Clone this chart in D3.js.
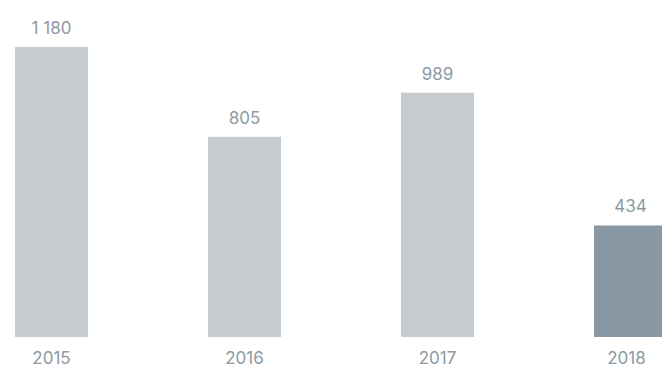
<!DOCTYPE html>
<html>
<head>
<meta charset="utf-8">
<script src="https://cdn.jsdelivr.net/npm/d3@7"></script>
<style>
  html, body { margin: 0; padding: 0; background: #fff; overflow: hidden; }
</style>
</head>
<body>
<div id="chart"></div>
<script>
// Data
var years = ["2015", "2016", "2017", "2018"];
var values = [1180, 805, 989, 434];
var labels = ["1 180", "805", "989", "434"];
var highlight = "2018";

var width = 662, height = 371;

var svg = d3.select("#chart")
  .append("svg")
    .attr("width", width)
    .attr("height", height);

// Scales
var x = d3.scaleBand()
  .domain(years)
  .range([15, 667])
  .paddingInner(0.622)
  .paddingOuter(0);

var y = d3.scaleLinear()
  .domain([-32, 1180])
  .range([337, 47]);

var data = years.map(function(d, i) {
  return {year: d, value: values[i], label: labels[i]};
});

// Bars
svg.selectAll("rect.bar")
  .data(data)
  .enter().append("rect")
    .attr("class", "bar")
    .attr("x", d => x(d.year))
    .attr("width", x.bandwidth())
    .attr("y", d => y(d.value))
    .attr("height", d => y(-32) - y(d.value))
    .attr("fill", d => d.year === highlight ? "#8898a4" : "#c6cbcf");

// Value labels
svg.selectAll("text.value")
  .data(data)
  .enter().append("text")
    .attr("class", "value")
    .attr("x", d => x(d.year) + x.bandwidth() / 2)
    .attr("y", d => y(d.value) - 13)
    .attr("text-anchor", "middle")
    .style("font-family", "Inter, sans-serif")
    .style("font-size", "17px")
    .style("fill", "#8d99a4")
    .text(d => d.label);

// Year axis labels
svg.selectAll("text.year")
  .data(data)
  .enter().append("text")
    .attr("class", "year")
    .attr("x", d => x(d.year) + x.bandwidth() / 2 - (d.year === highlight ? 4 : 0))
    .attr("y", 364)
    .attr("text-anchor", "middle")
    .style("font-family", "Inter, sans-serif")
    .style("font-size", "17px")
    .style("fill", "#8d99a4")
    .text(d => d.year);
</script>
</body>
</html>
